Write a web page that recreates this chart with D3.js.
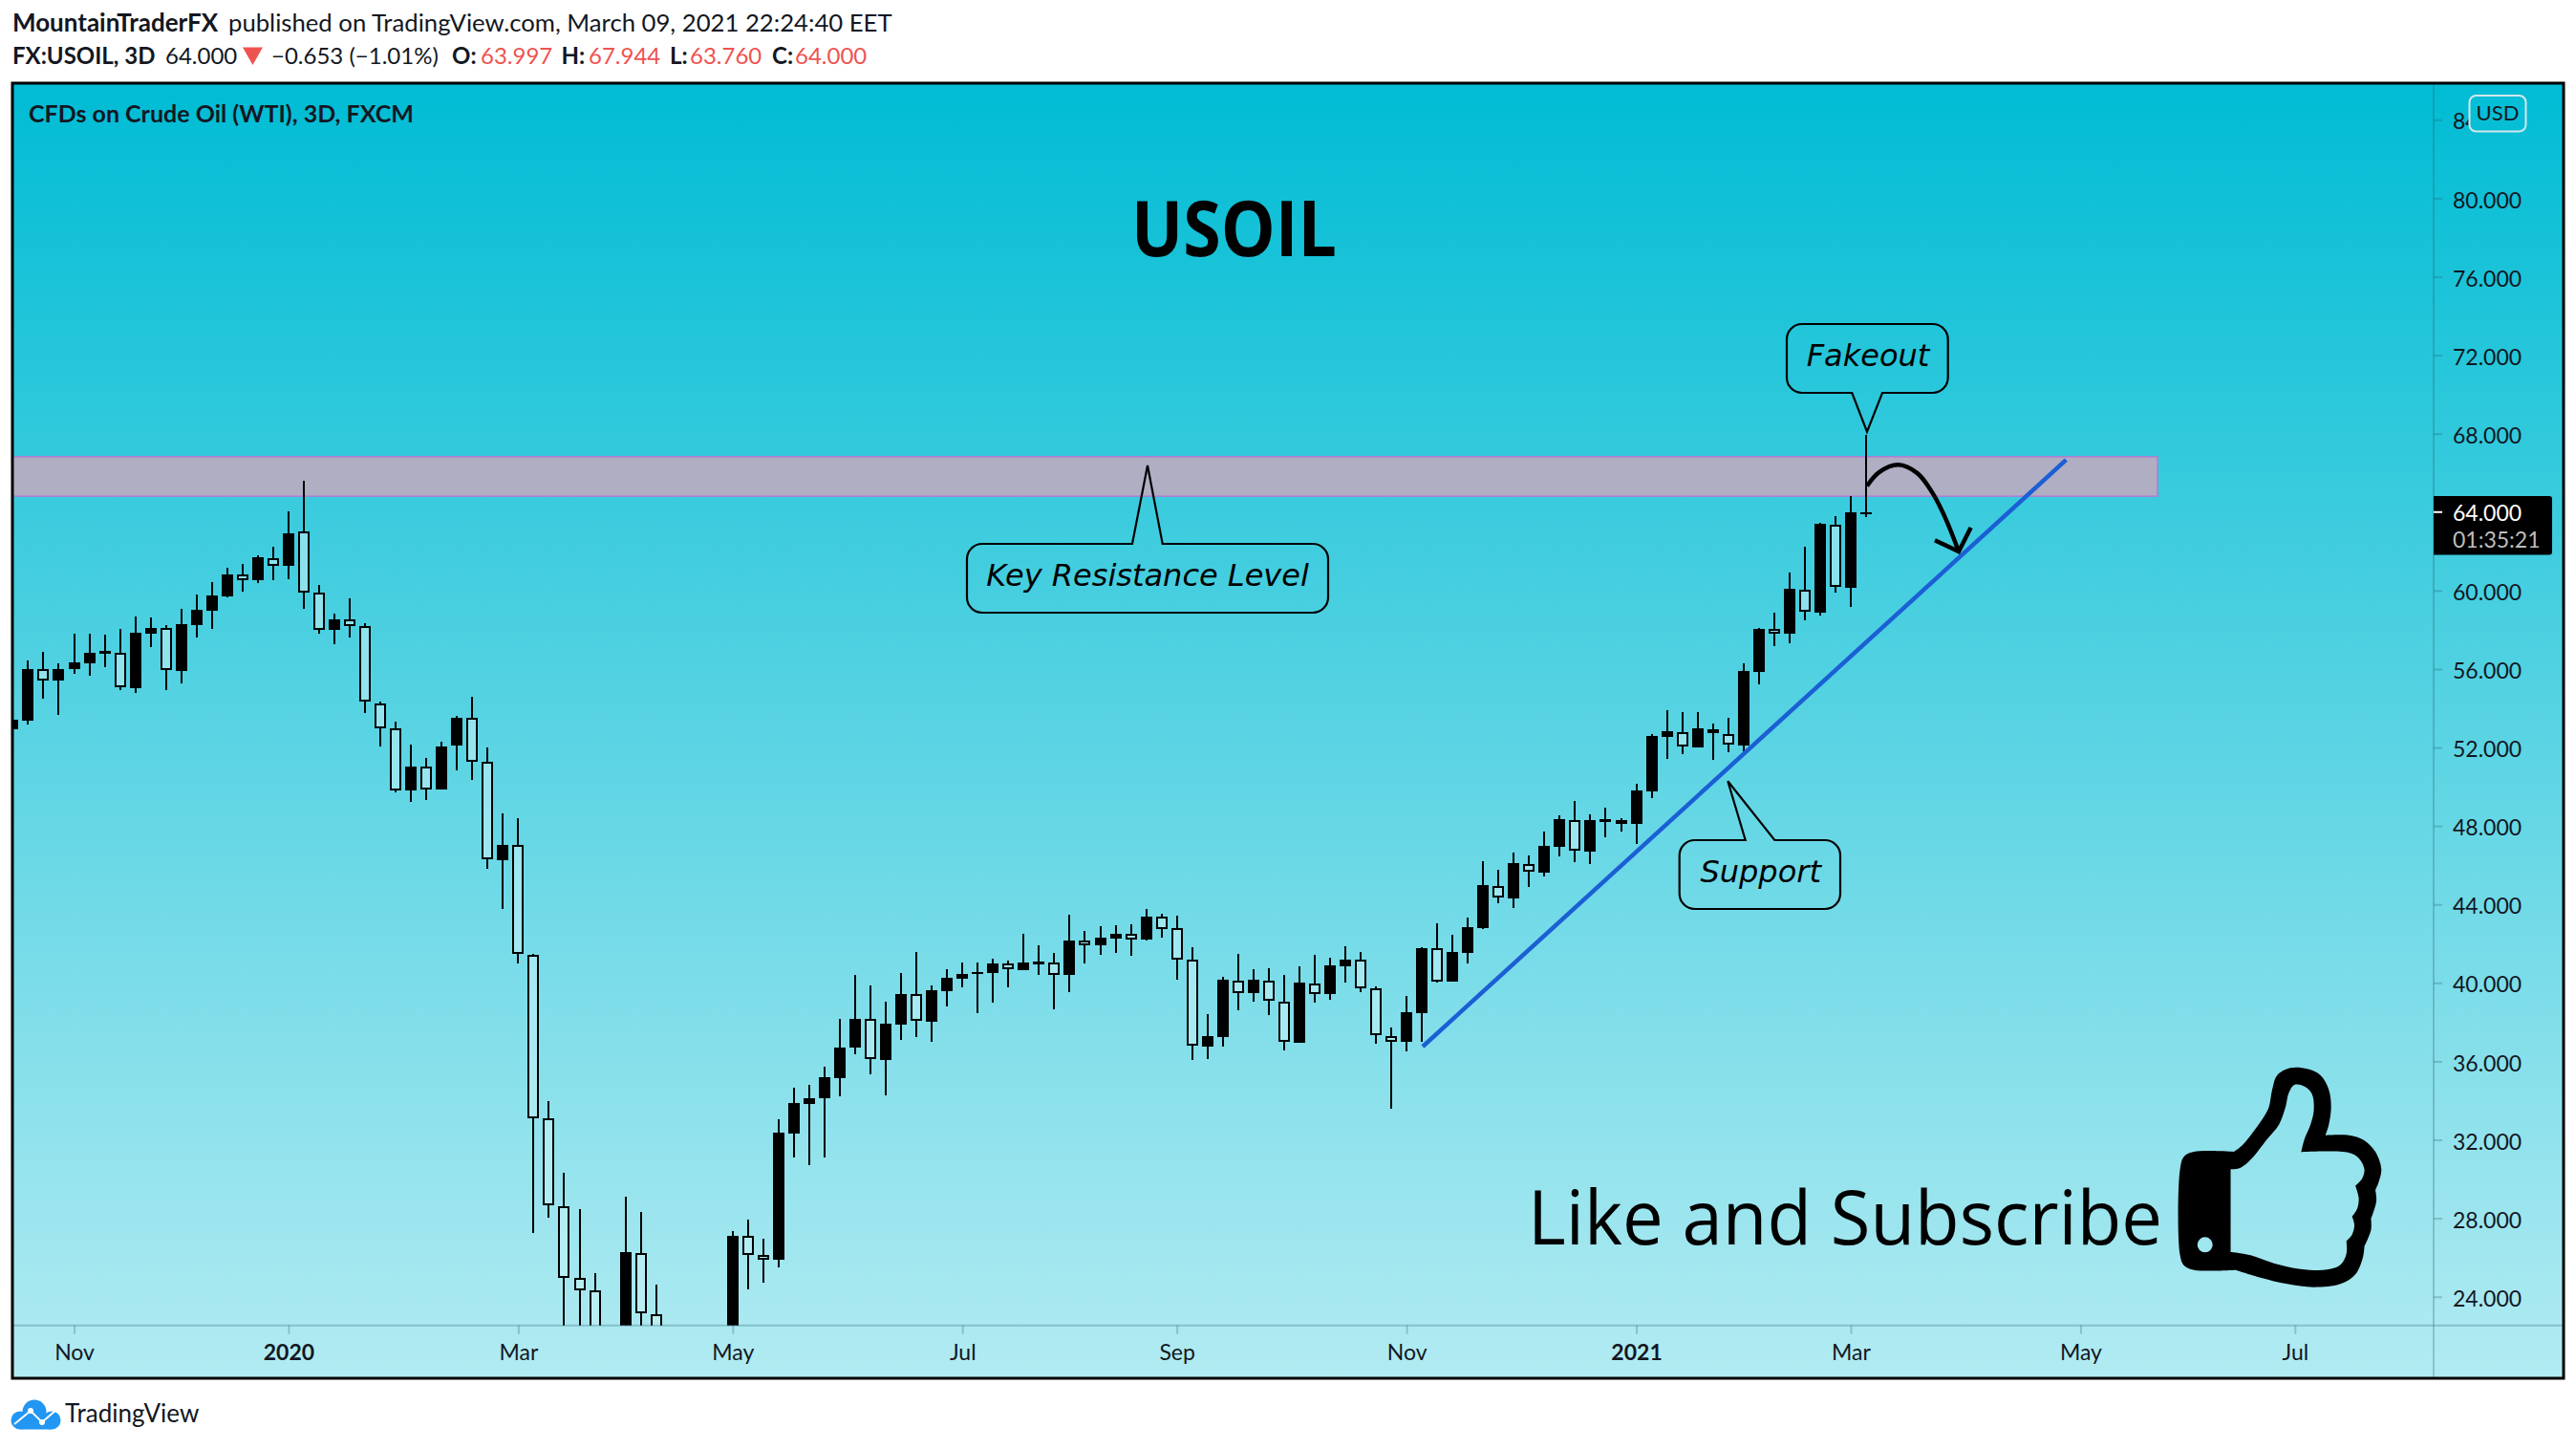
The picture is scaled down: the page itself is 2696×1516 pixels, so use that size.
<!DOCTYPE html>
<html>
<head>
<meta charset="utf-8">
<script src="https://cdn.jsdelivr.net/npm/d3@7"></script>
<style>
  body { margin: 0; background: #fff; }
  svg { display: block; }
  text { font-family: Lato, sans-serif; fill: #131722; }
</style>
</head>
<body>
<script>
// USOIL 3D candles. Indexes 36-47 partly sit under the pane, those bits are guesses.
const opens = [52.91,53.36,56.02,55.42,55.99,56.28,56.79,56.85,55.02,57.79,
  58.07,55.89,58.23,58.96,59.69,60.80,60.52,61.67,61.25,62.99,
  59.92,57.99,58.51,58.17,54.22,53.00,49.81,51.01,49.85,52.09,
  53.49,51.25,46.27,47.02,41.45,33.08,28.63,24.95,24.33,21,
  20,26.25,23.13,21,18,12,16,20,27.08,26.11,
  25.90,32.34,33.83,34.10,35.15,36.68,38.17,36.09,37.89,39.43,
  38.03,39.60,40.23,40.44,40.50,40.98,40.65,40.96,41.02,40.41,
  42.14,41.92,42.26,42.49,42.21,43.36,42.78,41.20,36.75,37.24,
  40.13,39.48,40.13,39.06,36.95,39.98,39.43,40.84,41.17,39.71,
  37.30,37.00,38.46,41.75,40.07,41.53,42.79,44.95,44.30,46.07,
  45.62,46.93,48.31,46.69,48.23,48.12,48.10,49.76,52.53,52.79,
  52.00,52.94,52.68,52.10,55.86,58.02,57.81,60.05,58.87,63.36,
  60.13,63.997];
const highs = [54.58,56.43,56.87,56.28,57.79,57.79,57.74,58.04,58.67,58.62,
  58.23,59.06,59.79,60.42,61.15,61.35,61.79,62.24,64.03,65.59,
  60.28,58.82,59.60,58.33,54.33,53.31,52.14,51.46,52.29,53.60,
  54.58,52.00,48.64,48.39,41.50,33.95,30.32,28.47,25.21,22.2,
  29.10,28.33,24.62,22,20,18,20,27.35,27.94,26.96,
  33.05,34.67,34.80,35.73,38.17,40.42,39.87,39.05,40.50,41.57,
  39.87,40.70,41.04,41.04,41.23,41.14,42.50,41.92,41.53,43.47,
  42.65,42.89,42.94,42.99,43.77,43.52,43.43,41.82,38.41,40.31,
  41.48,40.70,40.75,40.41,40.84,41.43,41.28,41.87,41.57,39.82,
  37.73,39.33,41.82,43.04,42.45,43.33,46.20,45.76,46.64,46.49,
  47.71,48.54,49.27,48.59,48.93,48.39,50.15,52.68,53.90,53.80,
  53.80,53.22,53.51,56.29,58.09,58.87,60.91,62.23,63.43,63.79,
  64.81,67.944];
const lows = [52.53,53.18,54.48,53.65,55.75,55.65,56.09,54.92,54.77,57.11,
  54.92,55.26,57.60,58.04,59.64,59.94,60.38,60.52,60.57,59.06,
  57.79,57.26,57.60,53.75,52.05,49.71,49.22,49.32,49.85,50.83,
  50.34,45.81,43.78,41.00,27.27,28.03,22,20.5,19.5,19,
  19,22,20,16,10,6,14,19,24.36,24.72,
  25.51,31.08,30.71,31.08,34.24,36.34,35.36,34.28,37.07,37.25,
  37.01,38.82,39.78,38.48,39.01,39.79,40.65,40.41,38.65,39.53,
  40.99,41.43,41.53,41.38,42.16,42.31,40.16,36.07,36.12,36.75,
  38.60,39.04,38.36,36.56,36.95,38.99,39.14,40.02,39.53,36.90,
  33.59,36.51,37.00,40.03,40.07,40.99,42.76,44.06,43.82,44.89,
  45.42,46.45,46.15,46.06,47.42,47.71,47.08,49.42,51.41,51.66,
  52.00,51.37,51.76,51.80,55.21,57.16,57.31,58.48,58.72,59.89,
  59.16,63.760];
const closes = [53.40,56.02,55.42,56.02,56.32,56.85,56.90,55.05,57.84,58.09,
  55.93,58.28,59.01,59.74,60.81,60.54,61.69,61.28,62.91,59.92,
  58.00,58.52,58.17,54.32,52.99,49.82,51.02,49.87,52.05,53.51,
  51.25,46.28,47.04,41.48,33.08,28.67,24.96,24.31,21,20,
  26.28,23.16,21,18,12,16,19,27.08,26.13,25.90,
  32.37,33.88,34.12,35.19,36.70,38.17,36.12,37.93,39.43,38.07,
  39.63,40.26,40.45,40.55,40.99,40.68,41.04,41.09,40.42,42.16,
  41.93,42.31,42.50,42.22,43.38,42.76,41.20,36.79,37.29,40.16,
  39.49,40.16,39.08,36.98,40.02,39.45,40.89,41.19,39.71,37.32,
  37.01,38.51,41.77,40.08,41.57,42.84,44.98,44.34,46.10,45.67,
  46.98,48.35,46.72,48.30,48.33,48.30,49.81,52.58,52.83,52.05,
  52.97,52.71,52.13,55.90,58.04,57.81,60.08,58.90,63.40,60.17,
  63.98,64.000];

const priceTicks = [24,28,32,36,40,44,48,52,56,60,64,68,72,76,80,84].filter(d => d !== 64);
const timeTicks = [4,18,33,47,62,76,91,106,120,135,149];
const timeLabels = ['Nov','2020','Mar','May','Jul','Sep','Nov','2021','Mar','May','Jul'];
const boldLabels = ['2020','2021'];

// Drawings on the chart, candle index / price pairs
const zoneTop = 66.82, zoneBottom = 64.81;
const trendIdx = [92.05,134.06], trendVal = [36.75,66.66];
const arrowIdx = [121.06,121.85,123.1,124.35,125.38,126.22,127.05];
const arrowVal = [65.33,66.03,66.41,65.98,64.92,63.62,61.99];
const headIdx = [125.49,127.05,127.84], headVal = [62.56,61.99,63.21];

const W = 2696, H = 1516;
const left = 13, top_ = 87, right = 2683, bottom = 1442, axisX = 2547, axisY = 1386.7;

const svg = d3.select('body').append('svg').attr('width', W).attr('height', H);
const defs = svg.append('defs');

const grad = defs.append('linearGradient').attr('id', 'bg').attr('x1', 0).attr('y1', 0).attr('x2', 0).attr('y2', 1);
grad.append('stop').attr('offset', 0).attr('stop-color', '#00bcd4');
grad.append('stop').attr('offset', 1).attr('stop-color', '#b2ebf2');

defs.append('clipPath').attr('id', 'pane').append('rect')
  .attr('x', left + 1).attr('y', top_ + 1).attr('width', axisX - left - 1).attr('height', axisY - top_ - 1);

const x = d3.scaleLinear().domain([0,121]).range([13.4,1953]);
const y = d3.scaleLinear().domain([24,84]).range([1356.7,125.3]);

svg.append('rect').attr('x', left).attr('y', top_).attr('width', right - left).attr('height', bottom - top_).attr('fill', 'url(#bg)');

// Header
const header = svg.append('g').style('font-size', '24px');
const headerBits = [
  [13,33,'MountainTraderFX',700,'#131722',26],
  [239,33,'published on TradingView.com, March 09, 2021 22:24:40 EET',400,'#131722',25.7],
  [13,66.5,'FX:USOIL, 3D',700,'#131722',24],
  [173,66.5,'64.000',400,'#131722',24],
  [284,66.5,'\u22120.653 (\u22121.01%)',400,'#131722',24],
  [473,66.5,'O:',700,'#131722',24],
  [503,66.5,'63.997',400,'#ef5350',24],
  [587.5,66.5,'H:',700,'#131722',24],
  [616,66.5,'67.944',400,'#ef5350',24],
  [701,66.5,'L:',700,'#131722',24],
  [722,66.5,'63.760',400,'#ef5350',24],
  [808,66.5,'C:',700,'#131722',24],
  [832,66.5,'64.000',400,'#ef5350',24]
];
header.selectAll('text').data(headerBits).enter().append('text')
  .attr('x', d => d[0]).attr('y', d => d[1]).text(d => d[2])
  .style('font-weight', d => d[3]).style('fill', d => d[4]).style('font-size', d => d[5] + 'px');
header.append('path').attr('d', 'M254,49.5H275L264.5,68Z').attr('fill', '#ef5350');

// Resistance zone sits behind the candles
const pane = svg.append('g').attr('clip-path', 'url(#pane)');
pane.append('rect')
  .attr('x', left).attr('y', y(zoneTop)).attr('width', 2258 - left).attr('height', y(zoneBottom) - y(zoneTop))
  .attr('fill', '#b0aec3').attr('stroke', '#b57ad0').attr('stroke-width', 1.5);

// Candles
const candles = pane.append('g').selectAll('g').data(opens.map((o, i) => i)).enter().append('g')
  .attr('shape-rendering', 'crispEdges');
candles.append('line')
  .attr('x1', i => Math.round(x(i))).attr('x2', i => Math.round(x(i)))
  .attr('y1', i => y(highs[i])).attr('y2', i => y(lows[i]))
  .attr('stroke', '#000').attr('stroke-width', 2);
// Zero height rects don't paint at all, so flat dojis get a sliver
candles.append('rect')
  .attr('x', i => Math.round(x(i)) - 5).attr('width', 10)
  .attr('y', i => y(Math.max(opens[i], closes[i])) + 1)
  .attr('height', i => Math.max(y(Math.min(opens[i], closes[i])) - y(Math.max(opens[i], closes[i])) - 2, 0.2))
  .attr('fill', i => closes[i] >= opens[i] ? '#000' : '#c6f3f8')
  .attr('fill-opacity', i => closes[i] >= opens[i] ? 1 : 0.55)
  .attr('stroke', '#000').attr('stroke-width', 2);

// Hollow bodies have to hide their wick
candles.filter(i => closes[i] < opens[i]).select('line').each(function (i) {
  const g = d3.select(this.parentNode);
  d3.select(this).attr('y2', y(Math.max(opens[i], closes[i])));
  g.insert('line', 'rect')
    .attr('x1', Math.round(x(i))).attr('x2', Math.round(x(i)))
    .attr('y1', y(Math.min(opens[i], closes[i]))).attr('y2', y(lows[i]))
    .attr('stroke', '#000').attr('stroke-width', 2);
});

// Trend line and the arrow
pane.append('line')
  .attr('x1', x(trendIdx[0])).attr('y1', y(trendVal[0])).attr('x2', x(trendIdx[1])).attr('y2', y(trendVal[1]))
  .attr('stroke', '#1b5fd4').attr('stroke-width', 4.5);

const arrowLine = d3.line().x(d => x(d[0])).y(d => y(d[1]));
pane.append('path').datum(d3.zip(arrowIdx, arrowVal))
  .attr('d', arrowLine.curve(d3.curveCatmullRom.alpha(0.5)))
  .attr('fill', 'none').attr('stroke', '#000').attr('stroke-width', 4.5);
pane.append('path').datum(d3.zip(headIdx, headVal))
  .attr('d', d3.line().x(d => x(d[0])).y(d => y(d[1])))
  .attr('fill', 'none').attr('stroke', '#000').attr('stroke-width', 4.5);

// Rounded box with a pointer on one side
function callout(b) {
  const p = d3.path(), r = 16;
  p.moveTo(b.x0 + r, b.y0);
  if (b.up) { p.lineTo(b.t0, b.y0); p.lineTo(b.tipX, b.tipY); p.lineTo(b.t1, b.y0); }
  p.arcTo(b.x1, b.y0, b.x1, b.y0 + r, r);
  p.arcTo(b.x1, b.y1, b.x1 - r, b.y1, r);
  if (!b.up) { p.lineTo(b.t1, b.y1); p.lineTo(b.tipX, b.tipY); p.lineTo(b.t0, b.y1); }
  p.arcTo(b.x0, b.y1, b.x0, b.y1 - r, r);
  p.arcTo(b.x0, b.y0, b.x0 + r, b.y0, r);
  p.closePath();
  svg.append('path').attr('d', p.toString()).attr('fill', 'none').attr('stroke', '#000').attr('stroke-width', 2.2);
  svg.append('text').attr('x', b.tx).attr('y', b.ty).attr('text-anchor', 'middle').text(b.label)
    .style('font-family', '"DejaVu Sans"').style('font-style', 'italic').style('font-size', '32px').style('fill', '#000');
}
callout({label: 'Key Resistance Level', x0: 1012, x1: 1390, y0: 569, y1: 641, t0: 1185, t1: 1216.7, tipX: 1201, tipY: 487, up: true, tx: 1201, ty: 613});
callout({label: 'Fakeout', x0: 1870, x1: 2038.7, y0: 339, y1: 411, t0: 1938.3, t1: 1970, tipX: 1954, tipY: 451.7, up: false, tx: 1955, ty: 383.3});
callout({label: 'Support', x0: 1757.7, x1: 1926, y0: 879, y1: 951, t0: 1826.7, t1: 1857.3, tipX: 1808.3, tipY: 817.3, up: true, tx: 1842.7, ty: 923});

// Big texts
svg.append('text').attr('x', 1184).attr('y', 268).text('USOIL')
  .attr('textLength', 215).attr('lengthAdjust', 'spacingAndGlyphs')
  .style('font-family', '"Open Sans"').style('font-weight', 700).style('font-size', '81px').style('fill', '#000');
svg.append('text').attr('x', 1599).attr('y', 1302).text('Like and Subscribe')
  .attr('textLength', 664).attr('lengthAdjust', 'spacingAndGlyphs')
  .style('font-family', '"Open Sans"').style('font-size', '78px').style('fill', '#000');
svg.append('text').attr('x', 30).attr('y', 128).text('CFDs on Crude Oil (WTI), 3D, FXCM')
  .style('font-weight', 700).style('font-size', '25px');

// Thumb. Repeated points keep the corners sharp.
const thumbOuter = [[378,430],[390,390],[420,375],[540,375],[540,375],[565,355],[600,310],[632,262],[645,235],[655,180],[670,135],[710,112],[760,115],[800,135],[825,180],[832,235],[825,290],[815,323],[815,323],[885,323],[930,338],[965,375],[983,430],[975,470],[965,495],[965,495],[968,530],[952,585],[952,585],[952,620],[932,672],[932,672],[928,705],[905,760],[860,790],[780,800],[700,790],[620,770],[545,746],[545,746],[420,746],[390,732],[378,700]];
const thumbInner = [[530,430],[530,430],[560,425],[590,400],[640,335],[675,290],[695,235],[705,190],[722,165],[755,172],[775,195],[780,245],[770,290],[752,335],[742,376],[742,376],[885,378],[915,395],[932,430],[925,460],[905,482],[905,482],[915,520],[910,555],[895,578],[895,578],[902,605],[895,635],[878,655],[878,655],[878,695],[860,730],[820,745],[740,743],[660,725],[590,700],[550,692],[530,690],[530,690]];
const thumbLine = d3.line().x(d => 2150 + d[0] / 2.872).y(d => 1080 + d[1] / 3).curve(d3.curveCatmullRomClosed.alpha(0.5));
const hole = d3.path();
hole.arc(2150 + 453 / 2.872, 1080 + 667 / 3, 8, 0, 2 * Math.PI);
svg.append('path').attr('d', thumbLine(thumbOuter) + thumbLine(thumbInner) + hole.toString())
  .attr('fill', '#000').attr('fill-rule', 'evenodd');

// Axes
const axisStroke = 'rgba(40,90,105,0.28)';
const priceAxis = svg.append('g').attr('transform', `translate(${axisX},0)`)
  .call(d3.axisRight(y).tickValues(priceTicks).tickFormat(d3.format('.3f')).tickSize(9).tickPadding(11));
const timeAxis = svg.append('g').attr('transform', `translate(0,${axisY})`)
  .call(d3.axisBottom(x).tickValues(timeTicks).tickFormat((d, i) => timeLabels[i]).tickSize(9).tickPadding(10.7));
[priceAxis, timeAxis].forEach(a => {
  a.select('.domain').remove();
  a.selectAll('line').attr('stroke', axisStroke).attr('stroke-width', 2);
  a.selectAll('text').style('font-family', 'Lato').style('font-size', '23px').style('fill', '#131722');
});
priceAxis.selectAll('text').attr('dy', '.42em');
timeAxis.selectAll('text').style('font-weight', (d, i) => boldLabels.includes(timeLabels[i]) ? 700 : 400);

svg.append('line').attr('x1', axisX).attr('x2', axisX).attr('y1', top_).attr('y2', bottom).attr('stroke', axisStroke).attr('stroke-width', 2);
svg.append('line').attr('x1', left).attr('x2', right).attr('y1', axisY).attr('y2', axisY).attr('stroke', axisStroke).attr('stroke-width', 2);

// Last price flag
const flagY = y(closes[closes.length - 1]);
svg.append('path').attr('d', `M${axisX},519H2668a3,3 0 0 1 3,3V577.5a3,3 0 0 1 -3,3H${axisX}Z`).attr('fill', '#000');
svg.append('line').attr('x1', axisX).attr('x2', axisX + 9).attr('y1', flagY).attr('y2', flagY).attr('stroke', '#fff').attr('stroke-width', 2);
svg.append('text').attr('x', 2567).attr('y', 545).text(d3.format('.3f')(closes[closes.length - 1]))
  .style('font-size', '23px').style('fill', '#fff');
svg.append('text').attr('x', 2567).attr('y', 573).text('01:35:21')
  .style('font-size', '23px').style('fill', '#bdbdbd');

// Currency badge, covers most of the 84 label like in the original
svg.append('rect').attr('x', 2584.5).attr('y', 100).attr('width', 59).attr('height', 37.5).attr('rx', 7)
  .attr('fill', '#06bed6').attr('stroke', '#d3e6ec').attr('stroke-width', 2);
svg.append('text').attr('x', 2614).attr('y', 126).attr('text-anchor', 'middle').text('USD').style('font-size', '22px');

// Frame on top of everything
svg.append('rect').attr('x', left).attr('y', top_).attr('width', right - left).attr('height', bottom - top_)
  .attr('fill', 'none').attr('stroke', '#000').attr('stroke-width', 3);

// Footer logo
const logo = svg.append('g');
logo.append('circle').attr('cx', 36).attr('cy', 1477).attr('r', 12.5).attr('fill', '#2196f3');
logo.append('circle').attr('cx', 21).attr('cy', 1486).attr('r', 9.5).attr('fill', '#2196f3');
logo.append('circle').attr('cx', 54).attr('cy', 1486).attr('r', 9.5).attr('fill', '#2196f3');
logo.append('rect').attr('x', 21).attr('y', 1480).attr('width', 33).attr('height', 15.5).attr('fill', '#2196f3');
logo.append('path').attr('d', 'M15,1490L32,1476L44,1488L59,1475').attr('fill', 'none').attr('stroke', '#fff').attr('stroke-width', 2);
logo.append('circle').attr('cx', 32).attr('cy', 1476).attr('r', 3).attr('fill', '#fff');
logo.append('circle').attr('cx', 44).attr('cy', 1488).attr('r', 3).attr('fill', '#fff');
svg.append('text').attr('x', 68).attr('y', 1488).text('TradingView').style('font-size', '26px');
</script>
</body>
</html>
